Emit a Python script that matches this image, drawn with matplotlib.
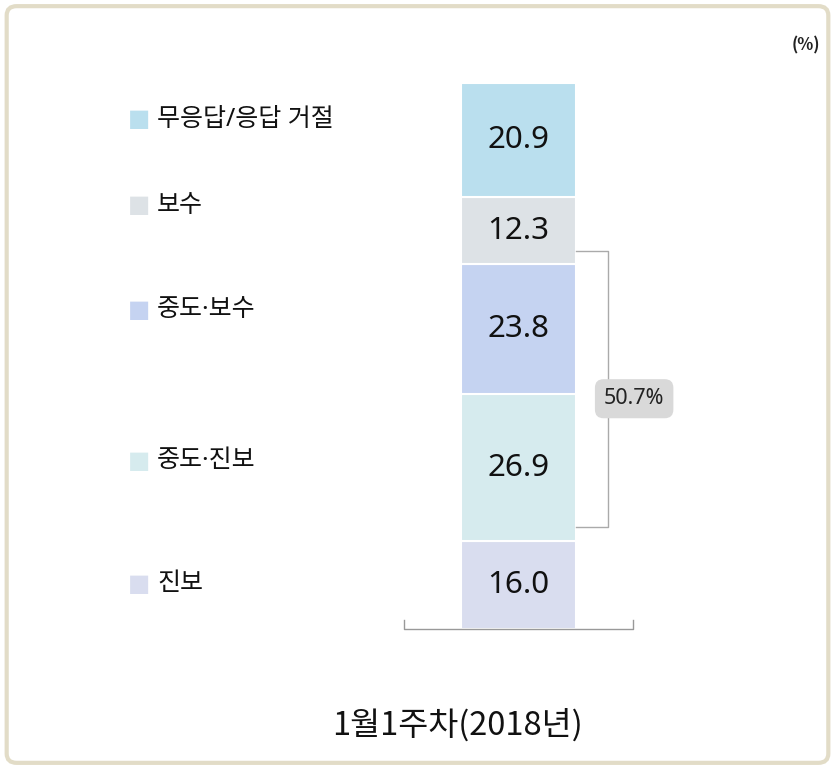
import matplotlib.pyplot as plt
from matplotlib.patches import FancyBboxPatch

plt.rcParams['font.family'] = ['Noto Sans CJK KR', 'DejaVu Sans']

# data (bottom -> top)
categories = ['진보', '중도·진보', '중도·보수', '보수', '무응답/응답 거절']
values = [16.0, 26.9, 23.8, 12.3, 20.9]
colors = ['#d9ddef', '#d6ebee', '#c5d3f1', '#dde2e6', '#badfee']
period = '1월1주차(2018년)'
# legend rows, figure fraction
legend_y = [0.241, 0.401, 0.597, 0.733, 0.845]

fig = plt.figure(figsize=(8.35, 7.69), dpi=100)

# rounded frame
frame = FancyBboxPatch((0.008, 0.008), 0.984, 0.984,
                       boxstyle='round,pad=0,rounding_size=0.012',
                       transform=fig.transFigure, fill=False,
                       edgecolor='#e2dcc7', linewidth=3)
fig.patches.append(frame)

ax = fig.add_axes([404 / 835, 1 - 629 / 769, 229 / 835, 547 / 769])
ax.set_xlim(-1, 1)
ax.set_ylim(0, 100)
ax.axis('off')

bottoms = []
b = 0
for v, c in zip(values, colors):
    ax.bar(0, v, width=1.0, bottom=b, color=c, edgecolor='white', linewidth=1.5)
    ax.text(0, b + v / 2, f'{v:.1f}', ha='center', va='center',
            fontsize=22.5, family='Noto Sans', fontweight='medium', color='#111111')
    bottoms.append(b)
    b += v

# baseline bracket
ax.plot([-1, -1, 1, 1], [1.6, 0, 0, 1.6], color='#999999', lw=1, clip_on=False)

# bracket for centrist total
mid = values[1] + values[2]
y_top = bottoms[3] + values[3] * 0.2
y_bot = bottoms[1] + values[1] * 0.1
ax.plot([0.5, 0.78, 0.78, 0.5], [y_top, y_top, y_bot, y_bot],
        color='#aaaaaa', lw=1, clip_on=False)
ax.text(1.01, bottoms[2] - 0.8, f'{mid:.1f}%', ha='center', va='center',
        fontsize=15.5, family='Noto Sans', color='#222222', zorder=5,
        bbox=dict(boxstyle='round,pad=0.42,rounding_size=0.4',
                  facecolor='#d9d9d9', edgecolor='none'))

# legend
for name, c, y in zip(categories, colors, legend_y):
    fig.text(128 / 835, y, '■', color=c, fontsize=17, va='center',
             family='DejaVu Sans')
    fig.text(157 / 835, y, name, fontsize=18, va='center', color='#111111',
             family=['Noto Sans', 'Noto Sans CJK KR'])

fig.text(458 / 835, 1 - 725 / 769, period, ha='center', va='center',
         fontsize=23.5, color='#111111')
fig.text(820 / 835, 1 - 45 / 769, '(%)', ha='right', va='center',
         fontsize=12, fontweight='bold', color='#222222')

fig.savefig('out.png', dpi=100)
